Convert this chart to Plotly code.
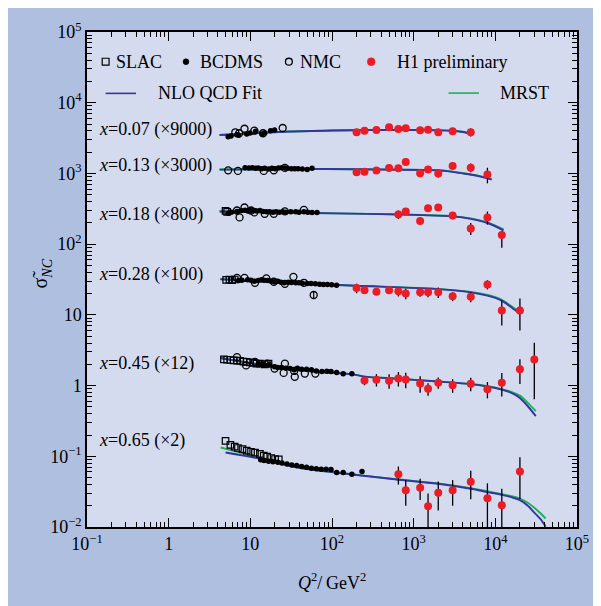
import plotly.graph_objects as go

# ---------------- data ----------------
# H1 preliminary (reduced NC cross section, scaled)
h1_q2_007 = [200, 250, 350, 500, 650, 800, 1200, 1500, 2000, 3000, 5000]
h1_007 = [3820, 4020, 4110, 4490, 4250, 4350, 4070, 4150, 3820, 3950, 3820]
h1_err_007 = [60, 60, 60, 70, 70, 80, 80, 90, 100, 130, 500]

h1_q2_013 = [200, 250, 350, 500, 650, 800, 1200, 1500, 2000, 3000, 5000, 8000]
h1_013 = [1038, 1052, 1097, 1196, 1181, 1452, 1005, 1132, 995, 1276, 1208, 964]
h1_err_013 = [60, 60, 70, 80, 90, 100, 100, 110, 120, 150, 170, 240]

h1_q2_018 = [650, 800, 1200, 1500, 2000, 3000, 5000, 8000, 12000]
h1_018 = [263, 290, 212, 322, 330, 255, 167, 239, 135]
h1_errp_018 = [37, 20, 15, 25, 25, 30, 32, 50, 20]
h1_errm_018 = [37, 20, 15, 25, 25, 30, 32, 50, 46]

h1_q2_028 = [200, 250, 350, 500, 650, 800, 1200, 1500, 2000, 3000, 5000, 8000, 12000, 20000]
h1_028 = [23.9, 22.2, 21.3, 22.2, 21.5, 20.0, 20.8, 20.8, 20.8, 18.3, 18.1, 26.9, 11.5, 11.5]
h1_err_028 = [3.7, 2.3, 1.5, 2.0, 3.3, 3.4, 2.8, 3.0, 3.5, 2.7, 3.0, 4.0, 4.4, 5.5]

h1_q2_045 = [250, 350, 500, 650, 800, 1200, 1500, 2000, 3000, 5000, 8000, 12000, 20000, 30000]
h1_045 = [1.18, 1.21, 1.17, 1.26, 1.22, 1.07, 0.90, 1.10, 1.01, 1.06, 0.89, 1.10, 1.70, 2.34]
h1_err_045 = [0.17, 0.24, 0.27, 0.29, 0.30, 0.28, 0.18, 0.20, 0.22, 0.23, 0.23, 0.40, 0.65, 1.7]

h1_q2_065 = [650, 800, 1200, 1500, 2000, 3000, 5000, 8000, 12000, 20000]
h1_065 = [0.0557, 0.0330, 0.0360, 0.0197, 0.0306, 0.0330, 0.0436, 0.0255, 0.0203, 0.0608]
h1_err_065 = [0.016, 0.013, 0.012, 0.010, 0.0135, 0.013, 0.019, 0.016, 0.0145, 0.036]

# BCDMS
bcdms_q2_007 = [5.35, 5.81, 6.86, 7.18, 9.04, 9.9, 11.6, 13.9, 15.0, 17.7, 19.8]
bcdms_007 = [3311, 3388, 3532, 3466, 3614, 3733, 3945, 3614, 3733, 4018, 4111]
bcdms_q2_013 = [8.62, 9.63, 10.6, 11.6, 12.5, 13.7, 15.0, 16.7, 18.4, 20.1, 22.1, 24.2, 26.5,
                28.6, 31.9, 35.0, 38.4, 43.3, 49.7, 57.0]
bcdms_013 = [1208, 1196, 1208, 1181, 1196, 1169, 1181, 1158, 1181, 1169, 1196, 1208, 1196,
             1181, 1169, 1169, 1169, 1158, 1132, 1181]
bcdms_q2_018 = [5.35, 5.86, 6.86, 7.73, 8.62, 9.29, 10.2, 11.2, 11.9, 13.1, 14.3, 15.7, 17.2,
                18.9, 20.7, 22.7, 24.9, 27.3, 31.3, 36.0, 39.4, 45.3, 50.6, 57.0, 65.5]
bcdms_018 = [274, 283, 290, 299, 302, 295, 305, 299, 295, 299, 290, 286, 286,
             283, 286, 283, 286, 283, 286, 286, 283, 286, 283, 281, 281]
bcdms_q2_028 = [7.18, 7.87, 9.29, 10.2, 11.2, 12.5, 13.7, 14.7, 16.4, 18.0, 19.8, 21.7, 23.8,
                26.1, 29.1, 31.9, 36.0, 39.4, 43.3, 49.7, 55.5, 62.5, 70.5, 78.7, 87.9, 99.1, 113.8]
bcdms_028 = [30.6, 30.9, 31.3, 30.9, 29.9, 30.6, 31.3, 30.9, 30.6, 29.9, 29.4, 29.9, 29.0,
             28.4, 29.0, 28.7, 28.4, 28.4, 28.1, 27.8, 27.8, 27.5, 27.2, 26.9, 26.9, 26.7, 26.3]
bcdms_q2_045 = [12.5, 13.7, 15.0, 17.2, 19.8, 21.7, 24.2, 27.3, 30.7, 34.4, 37.7, 42.5, 48.8,
                56.0, 64.3, 75.2, 86.4, 97.3, 114, 137, 175]
bcdms_045 = [2.04, 2.00, 1.96, 1.98, 1.84, 1.80, 1.80, 1.76, 1.74, 1.68, 1.76, 1.70, 1.70,
             1.67, 1.61, 1.58, 1.59, 1.58, 1.53, 1.47, 1.47]
bcdms_q2_065 = [13.4, 14.7, 16.7, 18.9, 21.7, 24.4, 28.1, 32.2, 37.0, 42.5, 48.8, 56.0, 64.3,
                73.8, 84.7, 97.3, 114, 137, 175, 233]
bcdms_065 = [0.0895, 0.0875, 0.0848, 0.0840, 0.0821, 0.0805, 0.0780, 0.0755, 0.0738, 0.0715,
             0.0698, 0.0676, 0.0664, 0.0655, 0.0655, 0.0649, 0.0589, 0.0589, 0.0557, 0.0608]

# NMC
nmc_q2_007 = [6.55, 7.31, 8.48, 11.2, 14.3, 24.9]
nmc_007 = [3819, 3698, 4287, 4018, 3698, 4387]
nmc_q2_013 = [5.35, 7.05, 14.6, 19.4, 26.5]
nmc_013 = [1107, 1086, 1086, 1107, 1196]
nmc_q2_018 = [6.86, 7.38, 8.48, 10.2, 11.2, 15.0, 19.4, 26.5, 45.3]
nmc_018 = [299, 239, 330, 299, 281, 268, 268, 290, 305]
nmc_q2_028 = [6.86, 8.48, 11.4, 15.7, 19.4, 26.5, 33.7, 45.3, 59.7]
nmc_028 = [33.4, 33.4, 28.4, 32.7, 29.4, 27.5, 34.5, 28.4, 19.1]
nmc_err_028 = [0, 0, 0, 0, 0, 0, 0, 0, 2.1]
nmc_q2_045 = [6.86, 8.87, 11.4, 16.1, 19.8, 26.5, 25.6, 34.4, 35.0, 46.5, 62.5]
nmc_045 = [2.53, 1.93, 2.16, 2.04, 1.74, 2.04, 1.51, 1.61, 1.33, 1.48, 1.48]

# SLAC
slac_q2_018 = [4.97, 5.2]
slac_018 = [295, 286]
slac_q2_028 = [5.06, 5.55, 5.97, 6.43]
slac_028 = [31.3, 31.6, 30.9, 31.6]
slac_q2_045 = [4.75, 5.20, 5.70, 6.25, 6.86, 7.52, 8.25, 9.04, 9.9, 10.9, 11.9, 13.1, 15.0, 16.7]
slac_045 = [2.35, 2.32, 2.30, 2.27, 2.25, 2.23, 2.18, 2.16, 2.13, 2.09, 2.04, 2.04, 2.00, 2.04]
slac_q2_065 = [4.97, 5.70, 6.43, 7.05, 8.02, 9.04, 10.2, 11.4, 13.1, 14.6, 16.1, 18.0, 20.1, 22.3]
slac_065 = [0.165, 0.145, 0.137, 0.131, 0.126, 0.120, 0.116, 0.113, 0.108, 0.102, 0.0986,
            0.0946, 0.0916, 0.0904]

# Fit curves (NLO QCD Fit and MRST)
fit_q2_007 = [4.2, 10, 30, 100, 300, 1000, 2000, 3000, 4000, 5200]
nlo_007 = [3500, 3670, 3920, 4050, 4110, 4110, 4070, 4020, 3860, 3630]
mrst_007 = [3500, 3670, 3920, 4050, 4110, 4110, 4070, 4030, 3880, 3660]

fit_q2_013 = [4.2, 36, 200, 2000, 3000, 4700, 6800, 9000]
nlo_013 = [1132, 1160, 1143, 1107, 1052, 973, 895, 821]
mrst_013 = [1135, 1160, 1145, 1110, 1058, 980, 905, 832]

fit_q2_018 = [4.2, 36, 110, 650, 3000, 5000, 8000, 12600]
nlo_018 = [290, 280, 272, 263, 247, 228, 199, 157]
mrst_018 = [292, 280, 272, 264, 249, 231, 203, 162]

fit_q2_028 = [4.3, 36, 200, 2000, 5000, 8000, 10000, 12000, 15000, 20000]
nlo_028 = [31.9, 28.0, 25.8, 23.1, 20.8, 18.7, 17.4, 15.9, 13.3, 10.3]
mrst_028 = [32.2, 28.0, 25.8, 23.3, 21.1, 19.1, 17.8, 16.3, 13.8, 10.9]

fit_q2_045 = [4.3, 36, 175, 250, 650, 2000, 5000, 8000, 12000, 16000, 20000, 25000, 31300]
nlo_045 = [2.45, 1.66, 1.45, 1.34, 1.25, 1.14, 1.05, 0.97, 0.875, 0.78, 0.667, 0.51, 0.37]
mrst_045 = [2.45, 1.66, 1.45, 1.34, 1.25, 1.14, 1.05, 0.98, 0.89, 0.81, 0.72, 0.57, 0.435]

nlo_q2_065 = [4.97, 13.6, 36, 227, 620, 1977, 5000, 8000, 12000, 16000, 20000, 25000, 30000,
              36000, 41300]
nlo_065 = [0.113, 0.0916, 0.0699, 0.0535, 0.0470, 0.0409, 0.0348, 0.0312, 0.0285, 0.0262,
           0.0240, 0.0200, 0.0160, 0.0128, 0.0101]
mrst_q2_065 = [4.33, 13.6, 36, 227, 620, 1977, 5000, 8000, 12000, 16000, 20000, 25000, 30000,
               36000, 41300]
mrst_065 = [0.133, 0.0946, 0.0705, 0.0538, 0.0474, 0.0414, 0.0354, 0.0320, 0.0292, 0.0272,
            0.0252, 0.0220, 0.0187, 0.0155, 0.0132]

row_labels = ["<i>x</i>=0.07 (×9000)", "<i>x</i>=0.13 (×3000)", "<i>x</i>=0.18 (×800)",
              "<i>x</i>=0.28 (×100)", "<i>x</i>=0.45 (×12)", "<i>x</i>=0.65 (×2)"]
row_label_y = [0.804, 0.731, 0.631, 0.511, 0.331, 0.174]

x_tickvals = [0.1, 1, 10, 100, 1e3, 1e4, 1e5]
x_ticktext = ["10<sup>−1</sup>", "1", "10", "10<sup>2</sup>", "10<sup>3</sup>",
              "10<sup>4</sup>", "10<sup>5</sup>"]
y_tickvals = [0.01, 0.1, 1, 10, 100, 1e3, 1e4, 1e5]
y_ticktext = ["10<sup>−2</sup>", "10<sup>−1</sup>", "1", "10", "10<sup>2</sup>",
              "10<sup>3</sup>", "10<sup>4</sup>", "10<sup>5</sup>"]

# ---------------- styling ----------------
FONT = "Liberation Serif"
BLUE = "#33369c"
GREEN = "#1fae5c"
RED = "#ec1c27"
PLOT_BG = "#d5dbee"
PAPER_BG = "#afbfe0"

fig = go.Figure()

mrst_sets = [(fit_q2_007, mrst_007), (fit_q2_013, mrst_013), (fit_q2_018, mrst_018),
             (fit_q2_028, mrst_028), (fit_q2_045, mrst_045), (mrst_q2_065, mrst_065)]
nlo_sets = [(fit_q2_007, nlo_007), (fit_q2_013, nlo_013), (fit_q2_018, nlo_018),
            (fit_q2_028, nlo_028), (fit_q2_045, nlo_045), (nlo_q2_065, nlo_065)]

for q, v in mrst_sets:
    fig.add_trace(go.Scatter(x=q, y=v, mode="lines",
                             line=dict(color=GREEN, width=1.9, shape="spline", smoothing=0.8),
                             name="MRST", showlegend=False, hoverinfo="skip"))
for q, v in nlo_sets:
    fig.add_trace(go.Scatter(x=q, y=v, mode="lines",
                             line=dict(color=BLUE, width=1.9, shape="spline", smoothing=0.8),
                             name="NLO QCD Fit", showlegend=False, hoverinfo="skip"))

# SLAC
slac_q2 = slac_q2_018 + slac_q2_028 + slac_q2_045 + slac_q2_065
slac_v = slac_018 + slac_028 + slac_045 + slac_065
fig.add_trace(go.Scatter(x=slac_q2, y=slac_v, mode="markers", name="SLAC", showlegend=False,
                         marker=dict(symbol="square-open", size=6.5, color="black",
                                     line=dict(width=1.2, color="black"))))
# NMC
nmc_q2 = nmc_q2_007 + nmc_q2_013 + nmc_q2_018 + nmc_q2_028 + nmc_q2_045
nmc_v = nmc_007 + nmc_013 + nmc_018 + nmc_028 + nmc_045
nmc_err = ([0] * len(nmc_007) + [0] * len(nmc_013) + [0] * len(nmc_018) + nmc_err_028
           + [0] * len(nmc_045))
fig.add_trace(go.Scatter(x=nmc_q2, y=nmc_v, mode="markers", name="NMC", showlegend=False,
                         error_y=dict(type="data", array=nmc_err, color="black", thickness=1.2, width=0),
                         marker=dict(symbol="circle-open", size=7, color="black",
                                     line=dict(width=1.3, color="black"))))
# BCDMS
bc_q2 = bcdms_q2_007 + bcdms_q2_013 + bcdms_q2_018 + bcdms_q2_028 + bcdms_q2_045 + bcdms_q2_065
bc_v = bcdms_007 + bcdms_013 + bcdms_018 + bcdms_028 + bcdms_045 + bcdms_065
fig.add_trace(go.Scatter(x=bc_q2, y=bc_v, mode="markers", name="BCDMS", showlegend=False,
                         marker=dict(symbol="circle", size=5.5, color="black")))

# H1
h1_q2 = h1_q2_007 + h1_q2_013 + h1_q2_018 + h1_q2_028 + h1_q2_045 + h1_q2_065
h1_v = h1_007 + h1_013 + h1_018 + h1_028 + h1_045 + h1_065
h1_ep = h1_err_007 + h1_err_013 + h1_errp_018 + h1_err_028 + h1_err_045 + h1_err_065
h1_em = h1_err_007 + h1_err_013 + h1_errm_018 + h1_err_028 + h1_err_045 + h1_err_065
fig.add_trace(go.Scatter(x=h1_q2, y=h1_v, mode="markers", name="H1 preliminary", showlegend=False,
                         error_y=dict(type="data", array=h1_ep, arrayminus=h1_em, color="black",
                                      thickness=1.3, width=0),
                         marker=dict(symbol="circle", size=8, color=RED)))

# ---------------- layout ----------------
annotations = []
for lab, yy in zip(row_labels, row_label_y):
    annotations.append(dict(text=lab, x=0.02, y=yy, xref="paper", yref="paper",
                            xanchor="left", yanchor="middle", showarrow=False,
                            font=dict(family=FONT, size=18, color="black")))

# legend texts
leg_text = [("SLAC", 0.056, 0.94), ("BCDMS", 0.226, 0.94), ("NMC", 0.43, 0.94),
            ("H1 preliminary", 0.628, 0.94), ("NLO QCD Fit", 0.14, 0.876), ("MRST", 0.838, 0.876)]
for t, xx, yy in leg_text:
    annotations.append(dict(text=t, x=xx, y=yy, xref="paper", yref="paper", xanchor="left",
                            yanchor="middle", showarrow=False,
                            font=dict(family=FONT, size=18, color="black")))

annotations.append(dict(text="σ\u0303<sub><i>NC</i></sub>", x=-0.092, y=0.512, xref="paper",
                        yref="paper", textangle=-90, showarrow=False, xanchor="center",
                        yanchor="middle", font=dict(family=FONT, size=20, color="black")))
annotations.append(dict(text="<i>Q</i><sup>2</sup>/\u2009GeV<sup>2</sup>", x=0.5, y=-0.11,
                        xref="paper", yref="paper", showarrow=False, xanchor="center",
                        yanchor="middle", font=dict(family=FONT, size=18, color="black")))

shapes = [
    # legend keys
    dict(type="rect", xref="paper", yref="paper", x0=0.031, x1=0.045, y0=0.933, y1=0.947,
         line=dict(color="black", width=1.2)),
    dict(type="circle", xref="paper", yref="paper", x0=0.196, x1=0.208, y0=0.934, y1=0.946,
         fillcolor="black", line=dict(color="black", width=0.5)),
    dict(type="circle", xref="paper", yref="paper", x0=0.405, x1=0.419, y0=0.933, y1=0.947,
         line=dict(color="black", width=1.3)),
    dict(type="circle", xref="paper", yref="paper", x0=0.572, x1=0.588, y0=0.932, y1=0.948,
         fillcolor=RED, line=dict(color=RED, width=0.5)),
    dict(type="line", xref="paper", yref="paper", x0=0.038, x1=0.10, y0=0.876, y1=0.876,
         line=dict(color=BLUE, width=1.6)),
    dict(type="line", xref="paper", yref="paper", x0=0.738, x1=0.80, y0=0.8766, y1=0.8766,
         line=dict(color=GREEN, width=1.6)),
]

axis_common = dict(type="log", showgrid=False, zeroline=False, showline=True, linecolor="black",
                   linewidth=1.5, mirror="ticks", ticks="inside", ticklen=9, tickwidth=1.2,
                   tickcolor="black", tickmode="array",
                   tickfont=dict(family=FONT, size=18, color="black"),
                   minor=dict(ticks="inside", ticklen=5, tickwidth=1, tickcolor="black",
                              dtick="D1", showgrid=False))

# The page body adds an 8 px offset; the figure fills the rest of the 601x606 window.
fig.update_layout(
    width=593, height=598,
    margin=dict(l=79, r=14, t=19, b=79),
    paper_bgcolor=PAPER_BG, plot_bgcolor=PLOT_BG,
    showlegend=False,
    xaxis=dict(range=[-1, 5], tickvals=x_tickvals, ticktext=x_ticktext, **axis_common),
    yaxis=dict(range=[-2, 5], tickvals=y_tickvals, ticktext=y_ticktext, **axis_common),
    annotations=annotations, shapes=shapes,
    font=dict(family=FONT, color="black"),
)

fig.write_html("out.html")
